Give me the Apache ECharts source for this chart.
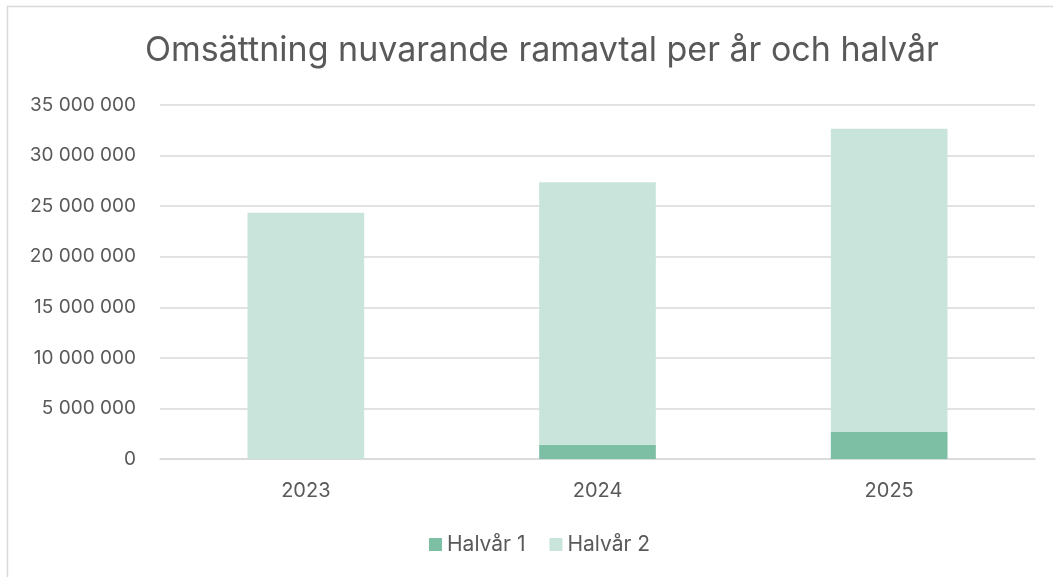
<!DOCTYPE html>
<html>
<head>
<meta charset="utf-8">
<script src="https://cdn.jsdelivr.net/npm/echarts@6/dist/echarts.min.js"></script>
<style>
  html, body { margin: 0; padding: 0; background: #fff; }
  #main { width: 1053px; height: 577px; }
</style>
</head>
<body>
<div id="main"></div>
<script>
'use strict';

const years = ['2023', '2024', '2025'];
const halvar1 = [0, 1410000, 2670000];
const halvar2 = [24350000, 25950000, 29990000];
const seriesNames = ['Halvår 1', 'Halvår 2'];

const textColor = '#595959';
const font = 'Inter, "Open Sans", sans-serif';

let myChart = echarts.init(document.getElementById('main'));

function fmt(v) {
  return String(v).replace(/\B(?=(\d{3})+(?!\d))/g, ' ');
}

let option = {
  animation: false,
  color: ['#7dbfa5', '#c9e4da'],
  textStyle: { fontFamily: font },
  graphic: [{
    type: 'rect',
    shape: { x: 7.5, y: 6.5, width: 1100, height: 700 },
    style: { fill: 'none', stroke: '#d9d9d9', lineWidth: 1.5 },
    silent: true
  }],
  title: {
    text: 'Omsättning nuvarande ramavtal per år och halvår',
    left: 140,
    top: 29,
    textStyle: { color: textColor, fontSize: 34, fontWeight: 'normal', fontFamily: font }
  },
  legend: {
    bottom: 17,
    left: 424,
    itemWidth: 13,
    itemHeight: 13,
    itemGap: 24,
    icon: 'rect',
    textStyle: { color: textColor, fontSize: 21, fontFamily: font },
    data: seriesNames
  },
  grid: { left: 160, right: 18, top: 105, bottom: 118 },
  xAxis: {
    type: 'category',
    data: years,
    axisLine: { lineStyle: { color: '#d9d9d9', width: 1.5 } },
    axisTick: { show: false },
    axisLabel: { color: textColor, fontSize: 20, margin: 22, fontFamily: font }
  },
  yAxis: {
    type: 'value',
    min: 0,
    max: 35000000,
    interval: 5000000,
    axisLine: { show: false },
    axisTick: { show: false },
    splitLine: { lineStyle: { color: '#d9d9d9', width: 1.5 } },
    axisLabel: { color: textColor, fontSize: 19, margin: 24, fontFamily: font, formatter: fmt }
  },
  series: [
    { name: seriesNames[0], type: 'bar', stack: 'tot', barWidth: '40%', data: halvar1 },
    { name: seriesNames[1], type: 'bar', stack: 'tot', barWidth: '40%', data: halvar2 }
  ]
};

myChart.setOption(option);
</script>
</body>
</html>
